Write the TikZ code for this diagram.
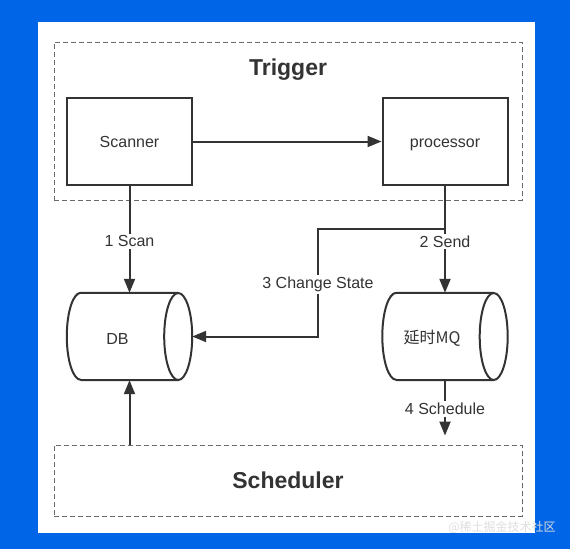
\documentclass[tikz,border=0pt]{standalone}
\usepackage{fontspec}
\setmainfont{Liberation Sans}
\newfontfamily\cjk{Noto Sans CJK SC}
\usetikzlibrary{arrows.meta}
\definecolor{bgblue}{RGB}{0,101,230}
\definecolor{ink}{RGB}{51,51,51}
\definecolor{dashgray}{RGB}{105,105,105}
\begin{document}
\begin{tikzpicture}[
    x=1pt, y=-1pt,
    every node/.style={font=\fontsize{16}{19}\selectfont, text=ink},
    box/.style={draw=ink, line width=2pt, minimum width=125pt, minimum height=87pt, inner sep=0pt,
        text height=14pt, text depth=2pt},
    store/.style={minimum width=125pt, minimum height=87pt, inner sep=0pt},
    outline/.style={draw=ink, line width=2pt},
    group/.style={draw=dashgray, dash pattern=on 5pt off 3pt, line width=0.9pt, minimum width=468pt},
    title/.style={font=\fontsize{23}{27}\selectfont\bfseries},
    flow/.style={draw=ink, line width=2pt, -{Triangle[length=14pt,width=11pt]}},
    tag/.style={fill=white, inner sep=2pt, yshift=-2pt}
]
% background
\fill[bgblue] (0,0) rectangle (570,549);
\fill[white] (38,22) rectangle (535,533);

% groups
\node[group, minimum height=158pt] (trigger) at (288,121) {};
\node[title] (triggertitle) at (288,70) {Trigger};
\node[group, title, minimum height=71pt] (scheduler) at (288,480.5) {Scheduler};

% components
\node[box] (scanner) at (129.5,141.5) {Scanner};
\node[box] (processor) at (445,141.5) {processor};
\node[store] (db) at (129.5,336.5) {};
\node[store] (mq) at (445,336.5) {};
\foreach \s in {db,mq} {
    \draw[outline] ([xshift=14pt]\s.north west) -- ([xshift=-14pt]\s.north east)
        ([xshift=14pt]\s.south west) -- ([xshift=-14pt]\s.south east)
        ([xshift=14pt]\s.north west) arc (90:270:14pt and 43.5pt);
    \draw[outline] ([xshift=-14pt]\s.east) ellipse (14pt and 43.5pt);
}
\node (dbtext) at ([xshift=-12pt,yshift=-2pt]db.center) {DB};
\node (mqtext) at ([xshift=-13pt,yshift=-2pt]mq.center) {\cjk 延时MQ};
\coordinate (fork) at (445,229);

% flows
\draw[flow] (scanner) -- (processor);
\draw[flow] (scanner) -- node[tag] {1 Scan} (db);
\draw[flow] (processor) -- node[tag] {2 Send} (mq);
\draw[flow] (fork) -- ++(-127,0) |- node[tag, pos=0.25] {3 Change State} (db.east);
\draw[flow, shorten >=9pt] (mq) -- node[tag, pos=0.42] {4 Schedule} (mq |- scheduler.north);
\draw[flow] (scheduler.north -| db) -- (db);

\node[font=\cjk\fontsize{12}{14}\selectfont, text=white!75!gray] (mark) at (502,527) {@稀土掘金技术社区};
\end{tikzpicture}
\end{document}
